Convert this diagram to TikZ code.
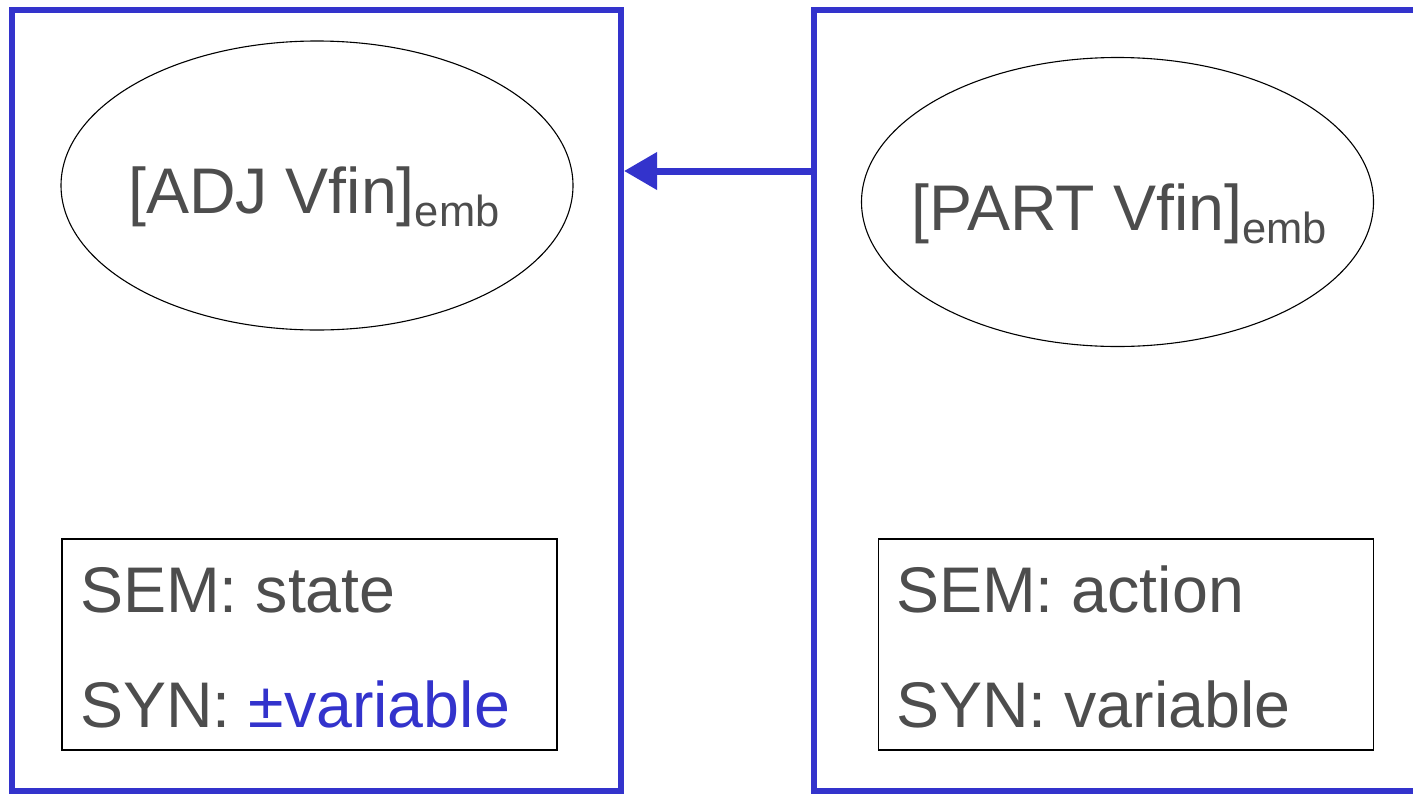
\documentclass[tikz,border=0pt]{standalone}
\usepackage{fontspec}
\setmainfont{Liberation Sans}
\usetikzlibrary{arrows.meta,shapes.geometric}
\definecolor{ink}{HTML}{4D4D4D}
\definecolor{frameblue}{HTML}{3333CC}
\newcommand{\bigtext}{\fontsize{64.5}{77}\selectfont}
\newcommand{\subtext}[1]{\raisebox{-13pt}{\fontsize{43.5}{52}\selectfont #1}}
\begin{document}
\begin{tikzpicture}[x=1pt,y=-1pt,
  frame/.style={draw=frameblue,line width=6pt,rectangle,inner sep=0pt},
  oval/.style={draw=black,line width=1.1pt,ellipse,inner sep=0pt,minimum width=512pt,minimum height=289pt},
  featbox/.style={draw=black,line width=1.1pt,rectangle,inner sep=0pt,minimum width=495pt,minimum height=211pt},
  label/.style={anchor=base west,inner sep=0pt,text=ink,font=\bigtext},
  link/.style={draw=frameblue,line width=7pt,-{Triangle[length=33pt,width=36pt]}}]
\useasboundingbox (0,0) rectangle (1413,793);

% outer frames
\node[frame,minimum width=609pt,minimum height=781pt] (lframe) at (316.5,400.5) {};
\node[frame,minimum width=616pt,minimum height=781pt] (rframe) at (1122,400.5) {};

% ellipses
\node[oval] (ladj) at (317,185.5) {};
\node[oval] (rpart) at (1117.5,202) {};
\node[label] (ladjtext) at (128,213) {[ADJ Vfin]\subtext{emb}};
\node[label] (rparttext) at (911,230) {[PART Vfin]\subtext{emb}};

% feature boxes
\node[featbox] (lfeat) at (309.5,644.5) {};
\node[featbox] (rfeat) at (1126,644.5) {};
\node[label] (lsem) at (80,612) {SEM: state};
\node[label] (lsyn) at (80,727) {SYN: \textcolor{frameblue}{±variable}};
\node[label] (rsem) at (896,612) {SEM: action};
\node[label] (rsyn) at (896,727) {SYN: variable};

% inheritance arrow
\draw[link] (rframe.west |- 0,171) -- (lframe.east |- 0,171);
\end{tikzpicture}
\end{document}
